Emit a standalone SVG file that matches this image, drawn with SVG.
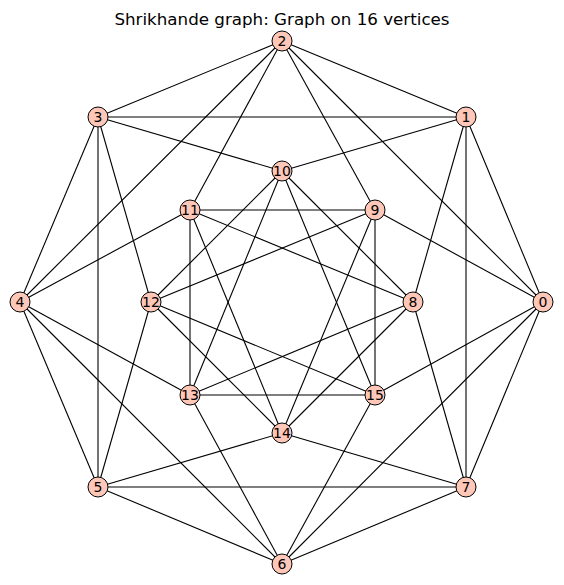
<svg xmlns="http://www.w3.org/2000/svg" width="564" height="585" viewBox="0 0 564 585">
<style>
.e{stroke:#000;stroke-width:1.1;fill:none}
.n circle{fill:#fec7b8;stroke:#000;stroke-width:1}
.n text{font-family:"DejaVu Sans",sans-serif;font-size:14px;text-anchor:middle;fill:#000}
.t{font-family:"DejaVu Sans",sans-serif;font-size:16.7px;text-anchor:middle;fill:#000}
</style>
<rect width="564" height="585" fill="#fff"/>
<text class="t" x="282" y="25">Shrikhande graph: Graph on 16 vertices</text>
<g id="edges" class="e">
<line x1="543" y1="302" x2="466" y2="117"/>
<line x1="543" y1="302" x2="466" y2="487"/>
<line x1="543" y1="302" x2="282" y2="41"/>
<line x1="543" y1="302" x2="282" y2="564"/>
<line x1="543" y1="302" x2="375" y2="210"/>
<line x1="543" y1="302" x2="375" y2="395"/>
<line x1="466" y1="117" x2="282" y2="41"/>
<line x1="466" y1="117" x2="98" y2="117"/>
<line x1="466" y1="117" x2="282" y2="171"/>
<line x1="466" y1="117" x2="413" y2="302"/>
<line x1="466" y1="117" x2="466" y2="487"/>
<line x1="282" y1="41" x2="98" y2="117"/>
<line x1="282" y1="41" x2="20" y2="302"/>
<line x1="282" y1="41" x2="190" y2="210"/>
<line x1="282" y1="41" x2="375" y2="210"/>
<line x1="98" y1="117" x2="282" y2="171"/>
<line x1="98" y1="117" x2="20" y2="302"/>
<line x1="98" y1="117" x2="98" y2="487"/>
<line x1="98" y1="117" x2="151" y2="302"/>
<line x1="20" y1="302" x2="190" y2="210"/>
<line x1="20" y1="302" x2="190" y2="395"/>
<line x1="20" y1="302" x2="98" y2="487"/>
<line x1="20" y1="302" x2="282" y2="564"/>
<line x1="98" y1="487" x2="151" y2="302"/>
<line x1="98" y1="487" x2="282" y2="433"/>
<line x1="98" y1="487" x2="466" y2="487"/>
<line x1="98" y1="487" x2="282" y2="564"/>
<line x1="282" y1="564" x2="190" y2="395"/>
<line x1="282" y1="564" x2="375" y2="395"/>
<line x1="282" y1="564" x2="466" y2="487"/>
<line x1="466" y1="487" x2="282" y2="433"/>
<line x1="466" y1="487" x2="413" y2="302"/>
<line x1="413" y1="302" x2="282" y2="171"/>
<line x1="413" y1="302" x2="190" y2="210"/>
<line x1="413" y1="302" x2="190" y2="395"/>
<line x1="413" y1="302" x2="282" y2="433"/>
<line x1="375" y1="210" x2="190" y2="210"/>
<line x1="375" y1="210" x2="151" y2="302"/>
<line x1="375" y1="210" x2="282" y2="433"/>
<line x1="375" y1="210" x2="375" y2="395"/>
<line x1="282" y1="171" x2="151" y2="302"/>
<line x1="282" y1="171" x2="190" y2="395"/>
<line x1="282" y1="171" x2="375" y2="395"/>
<line x1="190" y1="210" x2="190" y2="395"/>
<line x1="190" y1="210" x2="282" y2="433"/>
<line x1="151" y1="302" x2="282" y2="433"/>
<line x1="151" y1="302" x2="375" y2="395"/>
<line x1="190" y1="395" x2="375" y2="395"/>
</g>
<g id="n0" class="n"><circle cx="543" cy="302" r="10"/><text x="543" y="307">0</text></g>
<g id="n1" class="n"><circle cx="466" cy="117" r="10"/><text x="466" y="122">1</text></g>
<g id="n2" class="n"><circle cx="282" cy="41" r="10"/><text x="282" y="46">2</text></g>
<g id="n3" class="n"><circle cx="98" cy="117" r="10"/><text x="98" y="122">3</text></g>
<g id="n4" class="n"><circle cx="20" cy="302" r="10"/><text x="20" y="307">4</text></g>
<g id="n5" class="n"><circle cx="98" cy="487" r="10"/><text x="98" y="492">5</text></g>
<g id="n6" class="n"><circle cx="282" cy="564" r="10"/><text x="282" y="569">6</text></g>
<g id="n7" class="n"><circle cx="466" cy="487" r="10"/><text x="466" y="492">7</text></g>
<g id="n8" class="n"><circle cx="413" cy="302" r="10"/><text x="413" y="307">8</text></g>
<g id="n9" class="n"><circle cx="375" cy="210" r="10"/><text x="375" y="215">9</text></g>
<g id="n10" class="n"><circle cx="282" cy="171" r="10"/><text x="282" y="176">10</text></g>
<g id="n11" class="n"><circle cx="190" cy="210" r="10"/><text x="190" y="215">11</text></g>
<g id="n12" class="n"><circle cx="151" cy="302" r="10"/><text x="151" y="307">12</text></g>
<g id="n13" class="n"><circle cx="190" cy="395" r="10"/><text x="190" y="400">13</text></g>
<g id="n14" class="n"><circle cx="282" cy="433" r="10"/><text x="282" y="438">14</text></g>
<g id="n15" class="n"><circle cx="375" cy="395" r="10"/><text x="375" y="400">15</text></g>
</svg>
